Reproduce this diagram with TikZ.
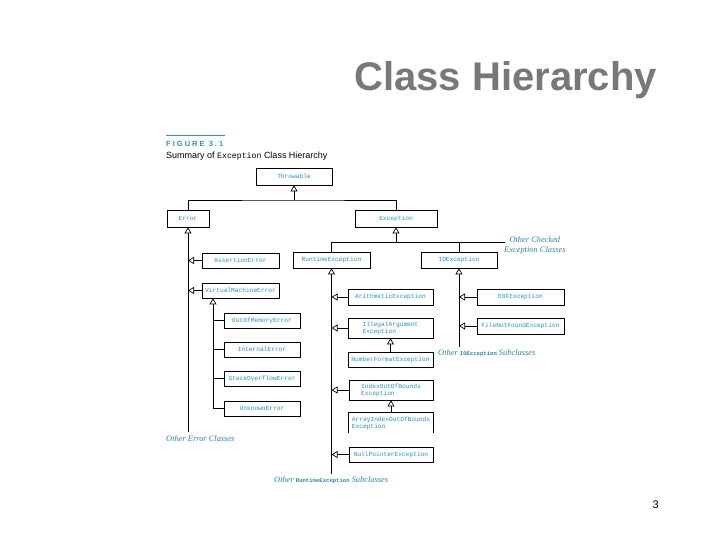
\documentclass[tikz,border=0pt]{standalone}
\usepackage{fontspec}
\setmainfont{Liberation Serif}
\setsansfont{Liberation Sans}
\setmonofont{Liberation Mono}
\usetikzlibrary{arrows.meta}
\definecolor{boxtxt}{RGB}{30,150,205}
\definecolor{lbl}{RGB}{40,135,180}
\definecolor{figc}{RGB}{50,150,175}
\definecolor{ttl}{RGB}{120,120,120}
\begin{document}
\begin{tikzpicture}[x=1pt,y=-1pt,
  cls/.style={draw, line width=0.7pt, inner sep=0pt, font=\ttfamily\fontsize{6.2}{7}\selectfont, text=boxtxt, align=left},
  sz/.style 2 args={minimum width=#1pt, minimum height=#2pt},
  tri/.style={-{Triangle[open,length=6pt,width=7pt]}, line width=0.7pt},
  ln/.style={line width=0.7pt},
  oth/.style={font=\itshape\fontsize{8.4}{9.2}\selectfont, text=lbl, inner sep=0pt}]
\useasboundingbox[fill=white] (0,0) rectangle (720,540);

% title and page number
\node[anchor=base east, inner sep=0pt, text=ttl, font=\sffamily\bfseries\fontsize{40}{44}\selectfont] (title) at (657,91) {Class Hierarchy};
\node[anchor=base east, inner sep=0pt, font=\sffamily\fontsize{11}{12}\selectfont] (pagenum) at (659,508) {3};

% figure caption
\coordinate (figl) at (166,135);
\coordinate (figr) at (225,135);
\draw[figc, line width=0.8pt] (figl) -- (figr);
\node[anchor=base west, inner sep=0pt, text=figc, font=\sffamily\bfseries\fontsize{7.5}{8}\selectfont\addfontfeature{LetterSpace=27}] (figlabel) at (166,147) {FIGURE 3.1};
\node[anchor=base west, inner sep=0pt, font=\sffamily\fontsize{9}{10}\selectfont] (figtitle) at (166,158.5) {Summary of {\ttfamily\fontsize{8.2}{10}\selectfont Exception} Class Hierarchy};

% boxes
\node[cls, sz={76}{17}] (throwable) at (294,176.5) {Throwable};
\node[cls, sz={42}{17}] (error) at (188,218.5) {Error};
\node[cls, sz={82}{17}] (exception) at (396,218.5) {Exception};
\node[cls, sz={77}{16}] (runtime) at (331.5,260) {RuntimeException};
\node[cls, sz={76}{16}] (ioexc) at (459,260) {IOException};
\node[cls, sz={77}{15}] (assertion) at (240.5,260.5) {AssertionError};
\node[cls, sz={77}{15}] (vmerror) at (240.5,290.5) {VirtualMachineError};
\node[cls, sz={76}{15}] (outofmem) at (262,320.5) {OutOfMemoryError};
\node[cls, sz={76}{15}] (internal) at (262,349.5) {InternalError};
\node[cls, sz={76}{15}] (stackover) at (262,378.5) {StackOverflowError};
\node[cls, sz={76}{15}] (unknown) at (262,408.5) {UnknownError};
\node[cls, sz={85}{16}] (arith) at (390.5,297) {ArithmeticException};
\node[cls, sz={85}{20}] (illegal) at (390.5,328) {IllegalArgument\\Exception};
\node[cls, sz={85}{15}] (numfmt) at (390.5,359.5) {NumberFormatException};
\node[cls, sz={84}{20}] (indexoob) at (391,390) {IndexOutOfBounds\\Exception};
\node[cls, sz={84}{20}, draw=none] (arrayidx) at (391,423) {ArrayIndexOutOfBounds\\Exception};
\draw[ln] (arrayidx.south west) -- (arrayidx.north west) -- (arrayidx.north east) -- (arrayidx.south east);
\node[cls, sz={84}{15}] (nullptr) at (391,454.5) {NullPointerException};
\node[cls, sz={87}{16}] (eof) at (520.5,297) {EOFException};
\node[cls, sz={87}{16}] (filenf) at (520.5,326) {FileNotFoundException};

% Throwable level
\coordinate (j1) at (294,200);
\draw[ln] (error.north) |- (j1) -| (exception.north);
\draw[tri] (j1) -- (throwable.south);

% Exception level
\coordinate (j2) at (396,242);
\coordinate (ochk) at (505,242);
\draw[ln] (runtime.north) |- (ochk);
\draw[ln] (ioexc.north) -- (ioexc.north |- ochk);
\draw[tri] (j2) -- (exception.south);

% Error subclasses
\coordinate (errend) at (188,432);
\draw[tri] (errend) -- (error.south);
\draw[tri] (assertion.west) -- (assertion.west -| errend);
\draw[tri] (vmerror.west) -- (vmerror.west -| errend);

% VirtualMachineError subclasses
\coordinate (vmend) at (213,408.5);
\draw[tri] (vmend) -- (vmend |- vmerror.south);
\draw[ln] (outofmem.west) -- (outofmem.west -| vmend);
\draw[ln] (internal.west) -- (internal.west -| vmend);
\draw[ln] (stackover.west) -- (stackover.west -| vmend);
\draw[ln] (unknown.west) -- (vmend);

% RuntimeException subclasses
\coordinate (rtend) at (331.5,474);
\draw[tri] (rtend) -- (runtime.south);
\draw[tri] (arith.west) -- (arith.west -| rtend);
\draw[tri] (illegal.west) -- (illegal.west -| rtend);
\draw[tri] (indexoob.west) -- (indexoob.west -| rtend);
\draw[tri] (nullptr.west) -- (nullptr.west -| rtend);
\draw[tri] (numfmt.north) -- (illegal.south);
\draw[tri] (arrayidx.north) -- (indexoob.south);

% IOException subclasses
\coordinate (ioend) at (459,347);
\draw[tri] (ioend) -- (ioexc.south);
\draw[tri] (eof.west) -- (eof.west -| ioend);
\draw[tri] (filenf.west) -- (filenf.west -| ioend);

% labels
\node[oth, anchor=west] (oerr) at (166,439) {Other Error Classes};
\node[oth, anchor=west, align=center] (ochktxt) at (504,245.5) {Other Checked\\Exception Classes};
\node[oth, anchor=west] (oio) at (438,353) {Other {\upshape\ttfamily\bfseries\fontsize{5.6}{6}\selectfont IOException} Subclasses};
\node[oth, anchor=west] (ort) at (274,480) {Other {\upshape\ttfamily\bfseries\fontsize{5.6}{6}\selectfont RuntimeException} Subclasses};
\end{tikzpicture}
\end{document}
